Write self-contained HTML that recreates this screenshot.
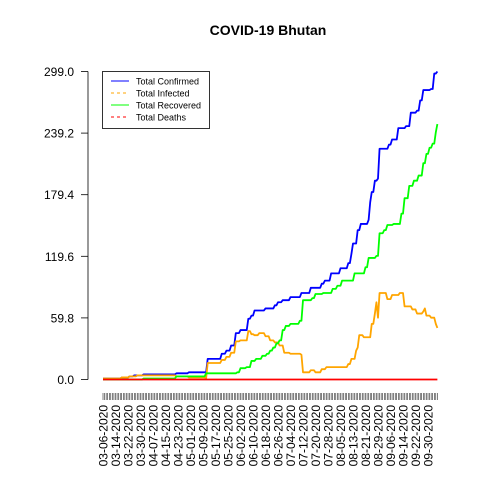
<!DOCTYPE html>
<html><head><meta charset="utf-8"><style>
html,body{margin:0;padding:0;background:#fff;}
svg{display:block;font-family:"Liberation Sans",Arial,sans-serif;}
</style></head><body>
<svg id="chart" width="480" height="480" viewBox="0 0 480 480">
<rect width="480" height="480" fill="#fff"/>
<text x="268" y="35" text-anchor="middle" font-size="14" font-weight="bold">COVID-19 Bhutan</text>
<g id="yaxis"></g>
<g id="xaxis"></g>
<g id="series"></g>
<g>
<rect x="102.5" y="71.5" width="107" height="57" fill="#fff" stroke="#000" stroke-width="0.8"/>
<g><line x1="111" y1="81" x2="129" y2="81" stroke="#0000ff" stroke-width="1"/><text x="136" y="84.5" font-size="9">Total Confirmed</text></g>
<g><line x1="111" y1="93" x2="129" y2="93" stroke="#ffa500" stroke-width="1" stroke-dasharray="3,3"/><text x="136" y="96.5" font-size="9">Total Infected</text></g>
<g><line x1="111" y1="105" x2="129" y2="105" stroke="#00ff00" stroke-width="1"/><text x="136" y="108.5" font-size="9">Total Recovered</text></g>
<g><line x1="111" y1="117" x2="129" y2="117" stroke="#ff0000" stroke-width="1" stroke-dasharray="3,3"/><text x="136" y="120.5" font-size="9">Total Deaths</text></g>
</g>
</svg>
<script>
const startDate = "2020-03-06";
const yTicks = [0.0, 59.8, 119.6, 179.4, 239.2, 299.0];
const labelEvery = 8;
const confirmed = [
1,1,1,1,1,1,1,1,1,1,1,1, 2,2,2,2,2, 3,3,3, 4,4,4,4,4,4,
5,5,5,5,5,5,5,5,5,5,5,5,5,5,5,5,5,5,5,5,5,
6,6,6,6,6,6,6,6, 7,7,7,7,7,7,7,7,7,7,7,7,
20,20,20,20,20,20,20,20,20, 25,25,25, 28,28,28, 33,33,33, 45,45,45,
48,48,48,48,48, 59,59, 62,62, 67,67,67,67,67,67,67, 69,69,69,69,69,69,
72,72, 75,75,75, 77,77,77,77,77, 80,80,80,80,80,80,80, 84,84,84,84,84,84,
89,89,89,89,89,89,89, 93,93, 96,96,96,96, 103,103,103,103,103,103,
108,108,108,108,108, 113,113, 122, 132,132,132, 145,145, 151,151,151,151,151,
155, 172, 182,182, 193,193, 195, 224,224,224,224,224,224, 228,228,
233,233,233,233, 244,244,244,244,244, 246,246,246, 259,259,259,259,
261,261, 271,271, 281,281,281,281,281, 282,282, 297,297, 299];
const infected = [
1,1,1,1,1,1,1,1,1,1,1,1, 2,2,2,2,2, 3,3,3,3,3,
4,4,4,4,4,4,4,4,4,4,4,4,4,4,4,4,4,4,4,4,4,4,4,4,4,
3,3,3,3,3,3,3,3, 2,2,2,2,2,2,2,2,2,2,2, 1,
16,16,16,16,16,16,16,16,16, 19,19,19, 22,22,22, 26,26,26, 37,37,37,
38,38,38,38,38, 47,47, 44,44, 43,43,43, 45,45,45,45, 42,42,42,
38,38,38, 36,36,36, 33,33,33, 26,26,26,26, 25,25,25,25,25,25,25, 24,
7,7,7,7,7, 9,9,9, 7,7,7,7, 10,10,10,
12,12,12,12,12,12,12,12,12,12,12,12,12,12, 15,15, 20,20,20, 28, 31,
43,43,43, 41,41,41,41,41, 54,54, 64, 75, 60, 84,84,84,84,84, 78,78,78,
82,82,82,82,82, 84,84,84, 71,71,71,71,71, 68,68,68, 64,64,64,64,
66, 69, 62,62,62, 60,60,60, 54, 50];
const recovered = [
0,0,0,0,0,0,0,0,0,0,0,0,0,0,0,0,0,0,0,0,0,0,0,0,0,0,
1,1,1,1,1,1,1,1,1,1,1,1,1,1,1,1,1,1,1,1,1,
3,3,3,3,3,3,3,3,3,3,3,3,3,3,3,3,3,3,3,
6,6,6,6,6,6,6,6,6,6,6,6,6,6,6,6,6,6,6,6,
7,7, 11,11,11,11, 12,12,12, 18,18,18, 20,20,20,20, 23,23,23,
25,25, 28,28, 31,31, 35,35, 38,38, 48,48, 52,52,52, 54,54,54,54,54,54,
57,57, 77,77,77,77,77,77, 79,79, 83,83,83,83,83, 84,84,84,84,84,84,
88,88,88, 91,91,91, 96,96,96,96,96,96,96,96, 103,103,103,103,103,103,103,
109,109, 118,118,118,118,118, 120,120, 142,142,142, 145,145,
150,150,150,150, 151,151,151,151,151, 161,161, 176,176,176, 188,188,188,
193,193,193, 198,198,198, 210,210, 219,219, 225,225, 229,229, 240, 248];
const deaths = new Array(confirmed.length).fill(0);

const NS = "http://www.w3.org/2000/svg";
const x0 = 103, dx = 1.5625, yBase = 379.5, yTop = 71.5, yMax = 299;
function xs(i){ return x0 + i*dx; }
function ys(v){ return yBase - (v / yMax) * (yBase - yTop); }
function mk(tag, attrs, parent){ const e = document.createElementNS(NS, tag); for (const k in attrs) e.setAttribute(k, attrs[k]); parent.appendChild(e); return e; }

const yaxis = document.getElementById('yaxis');
const ya = mk('line', {x1:88, y1:ys(0), x2:88, y2:ys(yMax), stroke:'#000', 'stroke-width':0.8}, yaxis);


yTicks.forEach(t => {
  const tl = mk('line', {x1:81, y1:ys(t), x2:88, y2:ys(t), stroke:'#000', 'stroke-width':0.8}, yaxis);
  
  
  const tx = mk('text', {x:74, y:ys(t)+4.5, 'text-anchor':'end', 'font-size':12}, yaxis);
  tx.textContent = t.toFixed(1);
  
  
});

const xaxis = document.getElementById('xaxis');
const base = new Date(startDate + "T00:00:00Z");
function fmt(i){ const d = new Date(base.getTime() + i*86400000); const m = String(d.getUTCMonth()+1).padStart(2,'0'); const dd = String(d.getUTCDate()).padStart(2,'0'); return m + '-' + dd + '-' + d.getUTCFullYear(); }
for (let i = 0; i < confirmed.length; i++) {
  const t = mk('line', {x1:xs(i), y1:393, x2:xs(i), y2:400, stroke:'#000', 'stroke-width':0.5}, xaxis);
  
  
  if (i % labelEvery === 0 && i < confirmed.length - 6) {
    const x = xs(i) + 4.5, y = 405;
    const tx = mk('text', {x:x, y:y, 'text-anchor':'end', 'font-size':12, transform:`rotate(-90 ${x} ${y})`}, xaxis);
    tx.textContent = fmt(i);
    
    
  }
}

const series = document.getElementById('series');
function drawLine(vals, color, name){
  let d = '';
  vals.forEach((v, i) => { d += (i ? 'L' : 'M') + xs(i).toFixed(2) + ' ' + ys(v).toFixed(2); });
  const p = mk('path', {d:d, fill:'none', stroke:color, 'stroke-width':1.8, 'stroke-linejoin':'round'}, series);
  
  
}
drawLine(confirmed, '#0000ff', 'confirmed-line');
drawLine(infected, '#ffa500', 'infected-line');
drawLine(recovered, '#00ff00', 'recovered-line');
drawLine(deaths, '#ff0000', 'deaths-line');
</script>
</body></html>
